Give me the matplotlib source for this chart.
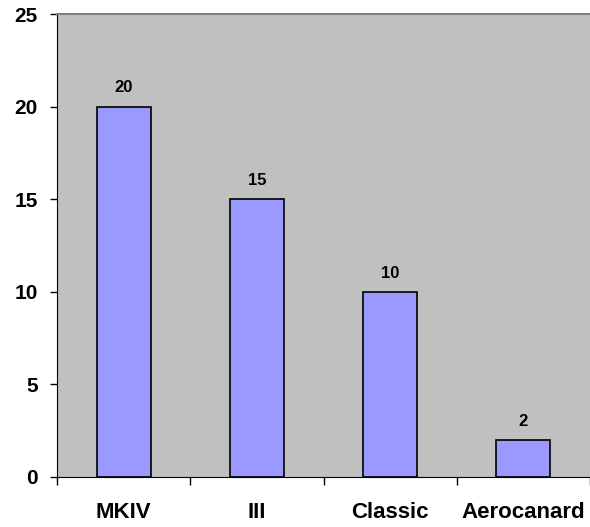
import matplotlib.pyplot as plt

# chart data
categories = ["MKIV", "III", "Classic", "Aerocanard"]
counts = [20, 15, 10, 2]
y_ticks = [0, 5, 10, 15, 20, 25]

plt.rcParams["font.family"] = ["Liberation Sans", "DejaVu Sans"]
plt.rcParams["font.weight"] = "bold"

fig = plt.figure(figsize=(5.9, 5.27), dpi=100)
ax = fig.add_axes([57 / 590, 50 / 527, 533 / 590, 463 / 527])
ax.set_facecolor("#C0C0C0")

x = range(len(categories))
bars = ax.bar(x, counts, width=0.405, color="#9999FF", edgecolor="black", linewidth=1.2, zorder=2)
for rect, v in zip(bars, counts):
    ax.annotate(str(v), (rect.get_x() + rect.get_width() / 2, v),
                xytext=(0, 8), textcoords="offset points",
                ha="center", va="bottom", fontsize=12, fontweight="bold")

ax.set_xlim(-0.5, len(categories) - 0.5)
ax.set_ylim(0, 25)
ax.set_yticks(y_ticks)
ax.set_yticklabels([str(t) for t in y_ticks], fontsize=15, fontweight="bold")
ax.set_xticks(list(x))
ax.set_xticklabels(categories, fontsize=16, fontweight="bold")
ax.tick_params(axis="x", length=0, pad=18)
ax.set_xticks([i + 0.5 for i in range(-1, len(categories))], minor=True)
ax.tick_params(axis="x", which="minor", length=6, width=1, color="black")
ax.tick_params(axis="y", length=5, width=1, pad=9)

ax.spines["left"].set_color("black")
ax.spines["bottom"].set_color("black")
ax.spines["top"].set_color("#808080")
ax.spines["top"].set_linewidth(1.5)
ax.spines["right"].set_visible(False)

fig.savefig("out.png", dpi=100)
